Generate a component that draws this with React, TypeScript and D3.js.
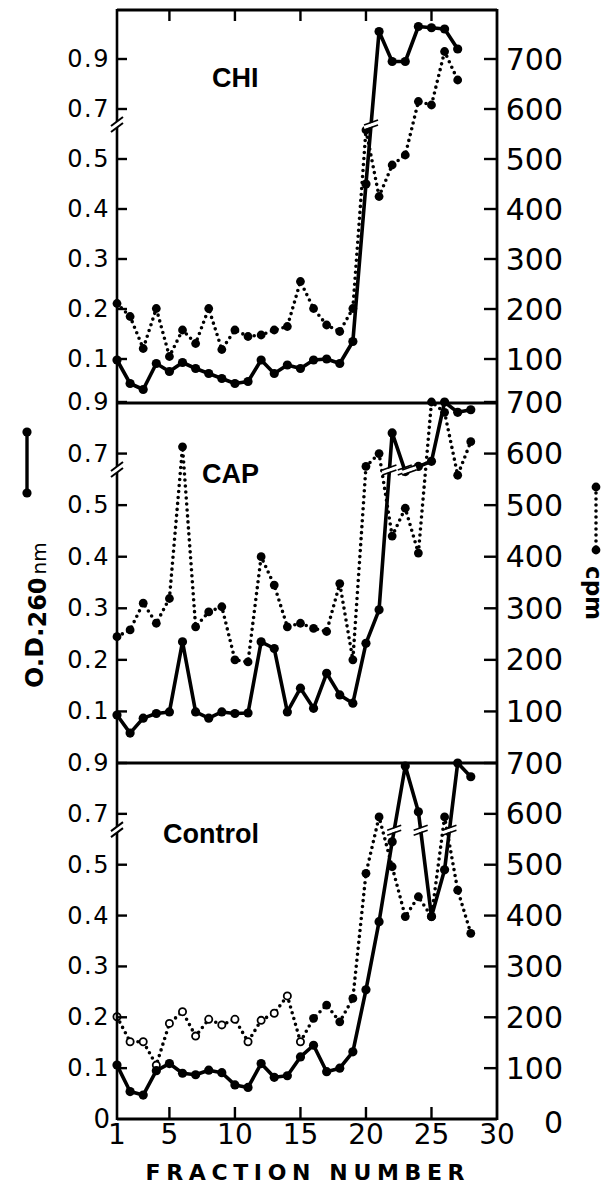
import React from "react";
import * as d3 from "d3";

// Fraction numbers along the gradient
const fractionNumbers = [1, 2, 3, 4, 5, 6, 7, 8, 9, 10, 11, 12, 13, 14, 15, 16, 17, 18, 19, 20, 21, 22, 23, 24, 25, 26, 27, 28];

// CHI: absorbance (O.D. 260 nm) and radioactivity (cpm)
const chiOD = [0.098, 0.051, 0.039, 0.091, 0.075, 0.093, 0.081, 0.071, 0.061, 0.051, 0.055, 0.098, 0.071, 0.088, 0.081, 0.098, 0.1, 0.091, 0.135, 0.45, 1.01, 0.89, 0.89, 1.03, 1.025, 1.02, 0.94];
const chiCpm = [211, 185, 121, 201, 105, 158, 131, 201, 119, 158, 145, 148, 158, 165, 255, 201, 168, 155, 201, 558, 425, 488, 508, 615, 608, 715, 658];

// CAP
const capOD = [0.093, 0.058, 0.087, 0.096, 0.099, 0.235, 0.099, 0.087, 0.099, 0.096, 0.097, 0.235, 0.222, 0.099, 0.145, 0.106, 0.174, 0.132, 0.116, 0.232, 0.297, 0.78, 0.63, 0.65, 0.67, 0.9, 0.86, 0.87];
const capCpm = [245, 258, 310, 271, 319, 613, 264, 293, 303, 200, 196, 400, 345, 264, 271, 261, 255, 348, 200, 575, 600, 440, 494, 407, 700, 680, 558, 623];

// Control
const controlOD = [0.106, 0.054, 0.047, 0.095, 0.109, 0.09, 0.087, 0.096, 0.091, 0.067, 0.062, 0.109, 0.082, 0.085, 0.122, 0.145, 0.093, 0.1, 0.132, 0.254, 0.388, 0.59, 0.888, 0.708, 0.398, 0.49, 0.9, 0.846];
const controlCpm = [201, 152, 152, 106, 188, 211, 163, 196, 185, 196, 152, 194, 208, 242, 152, 198, 224, 191, 237, 483, 594, 496, 398, 437, 398, 594, 450, 365];

// Axis ticks
const odTicks = [0.1, 0.2, 0.3, 0.4, 0.5, 0.7, 0.9];
const odTickLabels = ["0.1", "0.2", "0.3", "0.4", "0.5", "0.7", "0.9"];
const cpmTicks = [100, 200, 300, 400, 500, 600, 700];
const fractionTicks = [1, 5, 10, 15, 20, 25, 30];
const frameTicks = [5, 10, 15, 20, 25];

const W = 610;
const H = 1187;
const LEFT = 117;
const RIGHT = 497;
const BREAK_POS = 568;
const NUM_FONT = "'DejaVu Sans', sans-serif";
const LABEL_FONT = "'Liberation Sans', Arial, sans-serif";

const xScale = d3.scaleLinear().domain([1, 30]).range([LEFT, RIGHT]);
// Broken O.D. axis: linear to 0.5, then compressed above the break
const odToPos = d3.scaleLinear().domain([0, 0.5, 0.7, 1.1]).range([0, 500, 600, 800]);

type Panel = {
  name: string;
  od: number[];
  cpm: number[];
  top: number;
  bottom: number;
  y0: number;
  y700: number;
  lx: number;
  ly: number;
  openCount: number;
  showZero: boolean;
};

const panels: Panel[] = [
  { name: "CHI", od: chiOD, cpm: chiCpm, top: 10, bottom: 403, y0: 409, y700: 59, lx: 212, ly: 87, openCount: 0, showZero: false },
  { name: "CAP", od: capOD, cpm: capCpm, top: 403, bottom: 763, y0: 763, y700: 402, lx: 202, ly: 483, openCount: 0, showZero: false },
  { name: "Control", od: controlOD, cpm: controlCpm, top: 763, bottom: 1119, y0: 1119, y700: 763, lx: 163, ly: 843, openCount: 15, showZero: true },
];

function PanelView({ p }: { p: Panel }) {
  const yPos = d3.scaleLinear().domain([0, 700]).range([p.y0, p.y700]);
  const odLine = d3
    .line<number>()
    .x((_, i) => xScale(fractionNumbers[i]))
    .y((d) => yPos(odToPos(d)));
  const cpmLine = d3
    .line<number>()
    .x((_, i) => xScale(fractionNumbers[i]))
    .y((d) => yPos(d));

  // Break marks where the O.D. trace crosses the axis break
  const marks: { x: number; y: number }[] = [];
  for (let i = 0; i < p.od.length - 1; i++) {
    const a = odToPos(p.od[i]);
    const b = odToPos(p.od[i + 1]);
    if ((a - BREAK_POS) * (b - BREAK_POS) < 0) {
      const t = (BREAK_POS - a) / (b - a);
      const x1 = xScale(fractionNumbers[i]);
      const x2 = xScale(fractionNumbers[i + 1]);
      marks.push({ x: x1 + t * (x2 - x1), y: yPos(BREAK_POS) });
    }
  }

  return (
    <g>
      {/* cpm trace (dotted) */}
      <path d={cpmLine(p.cpm) || ""} fill="none" stroke="#000" strokeWidth={3.6} strokeLinecap="round" strokeDasharray="0 6" />
      {p.cpm.map((d, i) =>
        i < p.openCount ? (
          <circle key={"c" + i} cx={xScale(fractionNumbers[i])} cy={yPos(d)} r={3.6} fill="#fff" stroke="#000" strokeWidth={1.8} />
        ) : (
          <circle key={"c" + i} cx={xScale(fractionNumbers[i])} cy={yPos(d)} r={4.4} fill="#000" />
        )
      )}
      {/* O.D. trace (solid) */}
      <path d={odLine(p.od) || ""} fill="none" stroke="#000" strokeWidth={3.6} strokeLinejoin="round" />
      {p.od.map((d, i) => (
        <circle key={"o" + i} cx={xScale(fractionNumbers[i])} cy={yPos(odToPos(d))} r={4.6} fill="#000" />
      ))}
      {marks.map((m, i) => (
        <g key={"m" + i}>
          <line x1={m.x - 7} y1={m.y + 2.5} x2={m.x + 7} y2={m.y - 2.5} stroke="#fff" strokeWidth={3.5} />
          <line x1={m.x - 7} y1={m.y + 5} x2={m.x + 7} y2={m.y} stroke="#000" strokeWidth={1.6} />
          <line x1={m.x - 7} y1={m.y} x2={m.x + 7} y2={m.y - 5} stroke="#000" strokeWidth={1.6} />
        </g>
      ))}

      {/* left O.D. ticks */}
      {odTicks.map((t, i) => {
        const y = yPos(odToPos(t));
        return (
          <g key={"lt" + i}>
            <line x1={LEFT} x2={LEFT + 10} y1={y} y2={y} stroke="#000" strokeWidth={2.4} />
            <text x={110} y={y} textAnchor="end" dominantBaseline="central" fontFamily={NUM_FONT} fontSize={24} letterSpacing={1.5}>
              {odTickLabels[i]}
            </text>
          </g>
        );
      })}
      {/* right cpm ticks */}
      {cpmTicks.map((t) => {
        const y = yPos(t);
        return (
          <g key={"rt" + t}>
            <line x1={RIGHT - 13} x2={RIGHT} y1={y} y2={y} stroke="#000" strokeWidth={2.4} />
            <text x={563} y={y} textAnchor="end" dominantBaseline="central" fontFamily={NUM_FONT} fontSize={30}>
              {t}
            </text>
          </g>
        );
      })}
      {p.showZero && (
        <g>
          <text x={110} y={yPos(0)} textAnchor="end" dominantBaseline="central" fontFamily={NUM_FONT} fontSize={26}>
            0
          </text>
          <text x={563} y={yPos(0) + 3} textAnchor="end" dominantBaseline="central" fontFamily={NUM_FONT} fontSize={30}>
            0
          </text>
        </g>
      )}

      <text x={p.lx} y={p.ly} fontFamily={LABEL_FONT} fontWeight="bold" fontSize={27}>
        {p.name}
      </text>
    </g>
  );
}

export default function App() {
  return (
    <svg width={W} height={H} viewBox={`0 0 ${W} ${H}`} style={{ display: "block", position: "absolute", left: 0, top: 0, background: "#fff" }}>
      <rect x={0} y={0} width={W} height={H} fill="#fff" />

      {panels.map((p) => (
        <PanelView key={p.name} p={p} />
      ))}

      {/* frame */}
      <line x1={LEFT} x2={RIGHT} y1={10} y2={10} stroke="#000" strokeWidth={3} />
      <line x1={LEFT} x2={RIGHT} y1={403} y2={403} stroke="#000" strokeWidth={3} />
      <line x1={LEFT} x2={RIGHT} y1={763} y2={763} stroke="#000" strokeWidth={3} />
      <line x1={LEFT} x2={RIGHT} y1={1119} y2={1119} stroke="#000" strokeWidth={3} />
      <line x1={LEFT} x2={LEFT} y1={9} y2={1120} stroke="#000" strokeWidth={2.6} />
      <line x1={RIGHT} x2={RIGHT} y1={9} y2={1120} stroke="#000" strokeWidth={2.8} />
      {/* axis break marks on the O.D. axis */}
      {panels.map((p) => {
        const yPos = d3.scaleLinear().domain([0, 700]).range([p.y0, p.y700]);
        const by = yPos(BREAK_POS);
        return (
          <g key={"br" + p.name}>
            <polygon points={`${LEFT - 6},${by + 1} ${LEFT + 6},${by - 8} ${LEFT + 6},${by - 2} ${LEFT - 6},${by + 7}`} fill="#fff" />
            <line x1={LEFT - 6} y1={by + 1} x2={LEFT + 6} y2={by - 8} stroke="#000" strokeWidth={2} />
            <line x1={LEFT - 6} y1={by + 7} x2={LEFT + 6} y2={by - 2} stroke="#000" strokeWidth={2} />
          </g>
        );
      })}

      {/* fraction ticks on top and bottom */}
      {frameTicks.map((t) => (
        <g key={"ft" + t}>
          <line x1={xScale(t)} x2={xScale(t)} y1={10} y2={21} stroke="#000" strokeWidth={2.4} />
          <line x1={xScale(t)} x2={xScale(t)} y1={1119} y2={1107} stroke="#000" strokeWidth={2.4} />
        </g>
      ))}
      {fractionTicks.map((t) => (
        <text key={"fl" + t} x={xScale(t)} y={1144} textAnchor="middle" fontFamily={NUM_FONT} fontSize={28}>
          {t}
        </text>
      ))}
      <text x={305} y={1180} textAnchor="middle" fontFamily={NUM_FONT} fontWeight="bold" fontSize={22} textLength={319} lengthAdjust="spacing">
        FRACTION NUMBER
      </text>

      {/* left axis title with solid-line key */}
      <line x1={27} x2={27} y1={432} y2={493} stroke="#000" strokeWidth={3.4} />
      <circle cx={27} cy={432} r={4.6} fill="#000" />
      <circle cx={27} cy={493} r={4.6} fill="#000" />
      <text transform="translate(43,688) rotate(-90)" fontFamily={NUM_FONT} fontSize={25} fontWeight="bold">
        <tspan>O.D.</tspan>
        <tspan fontSize={24} dy={3}>260</tspan>
        <tspan fontSize={20} fontWeight="normal" dx={3}>nm</tspan>
      </text>

      {/* right axis title with dotted-line key */}
      <line x1={596} x2={596} y1={487} y2={550} stroke="#000" strokeWidth={3.6} strokeLinecap="round" strokeDasharray="0 6" />
      <circle cx={596} cy={487} r={4.4} fill="#000" />
      <circle cx={596} cy={550} r={4.4} fill="#000" />
      <text transform="translate(586,566) rotate(90)" fontFamily={NUM_FONT} fontWeight="bold" fontSize={23}>
        cpm
      </text>
    </svg>
  );
}
